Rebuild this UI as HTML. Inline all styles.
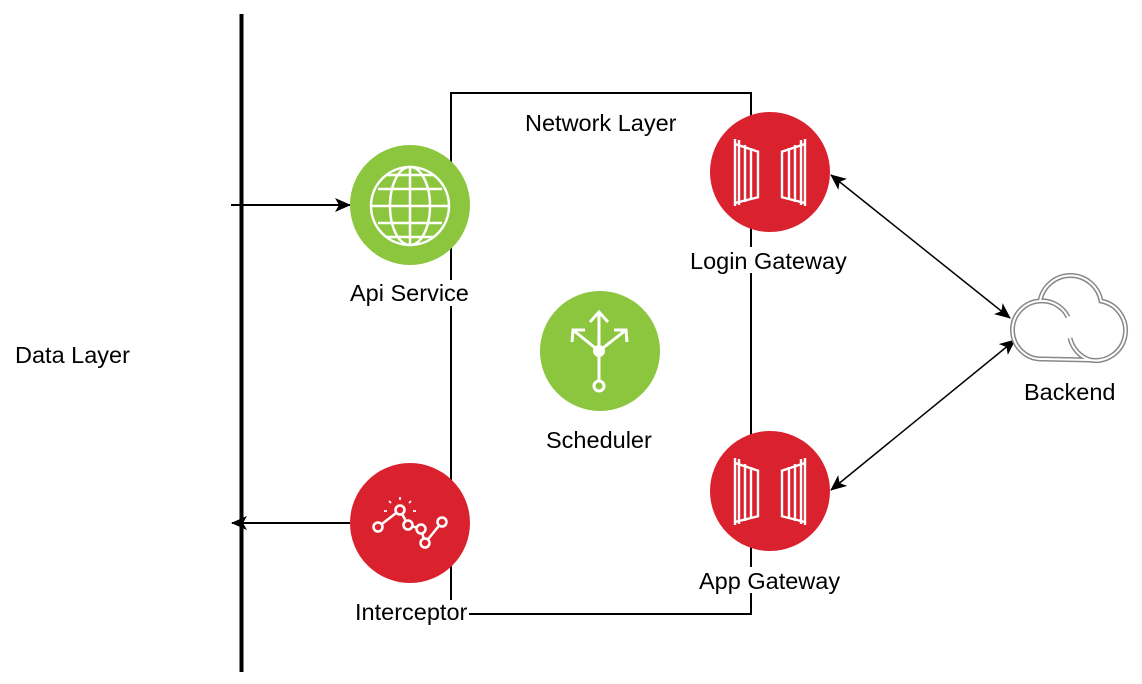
<!DOCTYPE html>
<html><head><meta charset="utf-8"><style>
html,body{margin:0;padding:0;background:#fff;width:1142px;height:684px;overflow:hidden}
text{font-family:"Liberation Sans",Helvetica,Arial,sans-serif;font-size:23.5px;fill:#000}
</style></head><body>
<svg width="1142" height="684" viewBox="0 0 1142 684" xmlns="http://www.w3.org/2000/svg">
<defs>
<marker id="ah" markerWidth="16" markerHeight="14" refX="15" refY="7" orient="auto" markerUnits="userSpaceOnUse">
<path d="M0,0 L16,7 L0,14 L4,7 Z" fill="#000"/></marker>
<marker id="as" markerWidth="16" markerHeight="14" refX="1" refY="7" orient="auto" markerUnits="userSpaceOnUse">
<path d="M16,0 L0,7 L16,14 L12,7 Z" fill="#000"/></marker>
<g id="gate" fill="none" stroke="#fff" stroke-width="2.4">
<path d="M-35,-33 L-35,34 M-31,-32 L-31,33 M-25,-27 L-25,30 M-19,-24 L-19,28 M-12,-21 L-12,25 M-35,31 L-11,25 M-35,-28 L-11,-20"/>
<path d="M35,-33 L35,34 M31,-32 L31,33 M25,-27 L25,30 M19,-24 L19,28 M12,-21 L12,25 M35,31 L11,25 M35,-28 L11,-20"/>
</g>
<path id="cl" d="M1043,359 A29,29 0 0 1 1040,301 A31,31 0 0 1 1101,301 A30,30 0 1 1 1090,360 Z M1040,301 A29,29 0 0 1 1068,317 M1090,360 A30,30 0 0 1 1070,338"/>
</defs>
<line x1="241.5" y1="14" x2="241.5" y2="672" stroke="#000" stroke-width="4"/>
<rect x="451" y="93" width="300" height="521" fill="none" stroke="#000" stroke-width="2"/>
<text x="15" y="363">Data Layer</text>
<text x="525" y="131">Network Layer</text>
<line x1="231" y1="205" x2="350" y2="205" stroke="#000" stroke-width="2" marker-end="url(#ah)"/>
<line x1="350" y1="523" x2="232" y2="523" stroke="#000" stroke-width="2" marker-end="url(#ah)"/>
<line x1="831" y1="175" x2="1010" y2="318" stroke="#000" stroke-width="1.5" marker-start="url(#as)" marker-end="url(#ah)"/>
<line x1="831" y1="490" x2="1015" y2="340" stroke="#000" stroke-width="1.5" marker-start="url(#as)" marker-end="url(#ah)"/>
<!-- Api Service -->
<circle cx="410" cy="205" r="60" fill="#8cc63f"/>
<g fill="none" stroke="#fff" stroke-width="2.5">
<circle cx="410" cy="206" r="39"/>
<ellipse cx="410" cy="206" rx="20" ry="39"/>
<line x1="410" y1="167" x2="410" y2="245"/>
<line x1="371" y1="206" x2="449" y2="206"/>
<line x1="378" y1="189" x2="442" y2="189"/><line x1="378" y1="223" x2="442" y2="223"/>
<line x1="386" y1="175" x2="434" y2="175"/><line x1="386" y1="237" x2="434" y2="237"/>
</g>
<rect x="348" y="280" width="126" height="26" fill="#fff"/>
<text x="350" y="301">Api Service</text>
<!-- Interceptor -->
<circle cx="410" cy="523" r="60" fill="#da222f"/>
<g fill="none" stroke="#fff" stroke-width="2.5">
<polyline points="378,527 400,510 408,525 421,529 425,543 442,522"/>
<circle cx="378" cy="527" r="4.5" fill="#da222f"/>
<circle cx="400" cy="510" r="4.5" fill="#da222f"/>
<circle cx="408" cy="525" r="4.5" fill="#da222f"/>
<circle cx="421" cy="529" r="4.5" fill="#da222f"/>
<circle cx="425" cy="543" r="4.5" fill="#da222f"/>
<circle cx="442" cy="522" r="4.5" fill="#da222f"/>
<path d="M400,500 v-3 M391,503 l-2,-2 M409,503 l2,-2 M387,511 h-3 M413,511 h3" stroke-width="1.8"/>
</g>
<rect x="353" y="600" width="116" height="26" fill="#fff"/>
<text x="355" y="620">Interceptor</text>
<!-- Scheduler -->
<circle cx="600" cy="351" r="60" fill="#8cc63f"/>
<g fill="none" stroke="#fff" stroke-width="3">
<line x1="599" y1="351" x2="599" y2="381"/>
<circle cx="599" cy="386" r="5"/>
<line x1="599" y1="351" x2="599" y2="312"/>
<polyline points="590,322 599,312 608,322"/>
<line x1="599" y1="351" x2="573" y2="330"/>
<polyline points="572,342 573,330 585,330"/>
<line x1="599" y1="351" x2="626" y2="330"/>
<polyline points="614,330 626,330 627,342"/>
</g>
<circle cx="599" cy="351" r="6" fill="#fff"/>
<text x="546" y="448">Scheduler</text>
<!-- Login Gateway -->
<circle cx="770" cy="172" r="60" fill="#da222f"/>
<use href="#gate" x="770" y="172"/>
<rect x="688" y="247" width="166" height="26" fill="#fff"/>
<text x="690" y="269">Login Gateway</text>
<!-- App Gateway -->
<circle cx="770" cy="491" r="60" fill="#da222f"/>
<use href="#gate" x="770" y="491"/>
<rect x="696" y="567" width="150" height="26" fill="#fff"/>
<text x="699" y="589">App Gateway</text>
<!-- Cloud -->
<use href="#cl" fill="none" stroke="#888" stroke-width="5"/>
<use href="#cl" fill="none" stroke="#fff" stroke-width="2"/>
<text x="1024" y="400">Backend</text>
</svg>
</body></html>
